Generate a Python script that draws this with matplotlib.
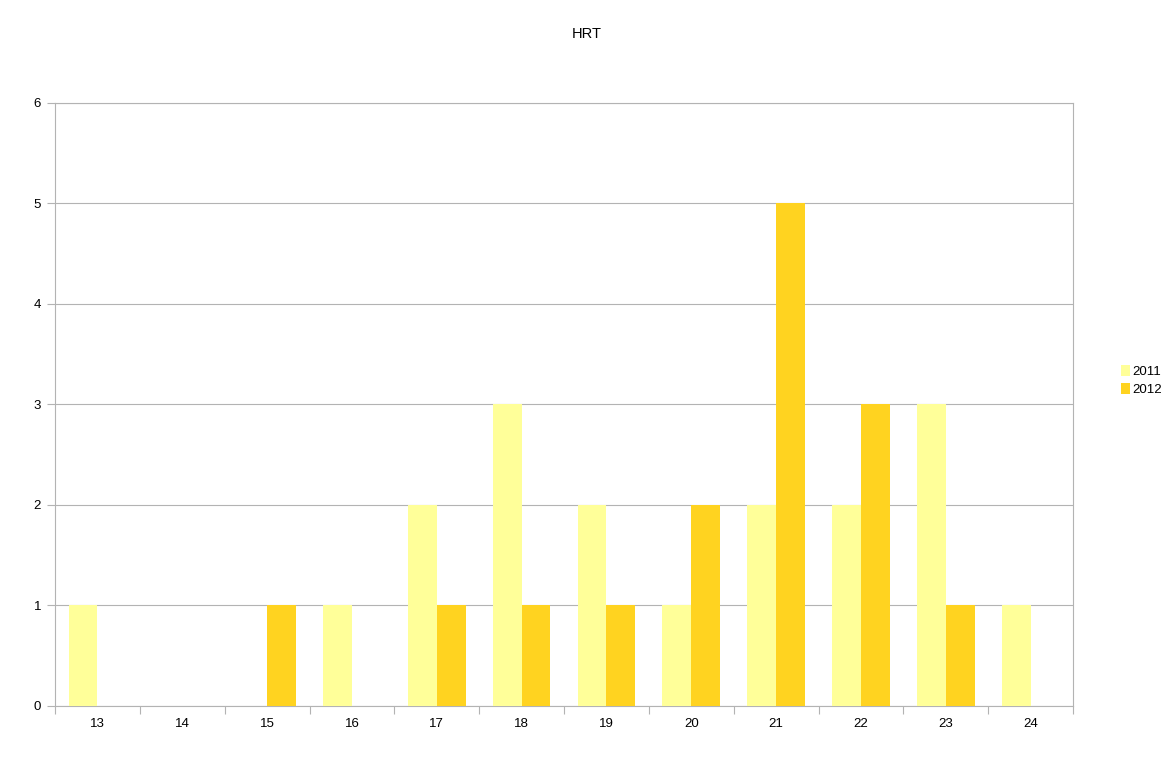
import matplotlib
matplotlib.use('Agg')
import matplotlib.pyplot as plt
import numpy as np

plt.rcParams['font.family'] = ['Liberation Sans', 'DejaVu Sans']

categories = ['13', '14', '15', '16', '17', '18', '19', '20', '21', '22', '23', '24']
vals_2011 = [1, 0, 0, 1, 2, 3, 2, 1, 2, 2, 3, 1]
vals_2012 = [0, 0, 1, 0, 1, 1, 1, 2, 5, 3, 1, 0]

C_2011 = '#ffff99'
C_2012 = '#ffd320'
C_GRID = '#b3b3b3'

fig = plt.figure(figsize=(11.73, 7.61), dpi=100)
ax = fig.add_axes([0.0469, 0.0723, 0.8679, 0.7924])

x = np.arange(len(categories))
w = 0.34
ax.bar(x - w/2, vals_2011, w, color=C_2011, label='2011', zorder=3)
ax.bar(x + w/2, vals_2012, w, color=C_2012, label='2012', zorder=3)

ax.set_xlim(-0.5, len(categories) - 0.5)
ax.set_ylim(0, 6)
ax.set_yticks(range(7))
ax.yaxis.grid(True, color=C_GRID, lw=0.8, zorder=0)
ax.set_axisbelow(True)

ax.set_xticks(x)
ax.set_xticklabels(categories)
ax.set_xticks(np.arange(-0.5, len(categories)), minor=True)
ax.tick_params(axis='x', which='major', length=0, pad=9, labelsize=9.5)
ax.tick_params(axis='x', which='minor', length=6, color=C_GRID, width=0.8)
ax.tick_params(axis='y', length=6, color=C_GRID, width=0.8, pad=4, labelsize=9.5)

for s in ax.spines.values():
    s.set_color(C_GRID)
    s.set_linewidth(0.8)

fig.text(0.5, 1 - 34/761, 'HRT', ha='center', va='center', fontsize=10.5)

ax.legend(loc='center left', bbox_to_anchor=(1.035, 0.54), frameon=False,
          fontsize=9.5, handlelength=0.7, handleheight=0.9, handletextpad=0.2,
          labelspacing=0.35)

fig.savefig('out.png', dpi=100)
